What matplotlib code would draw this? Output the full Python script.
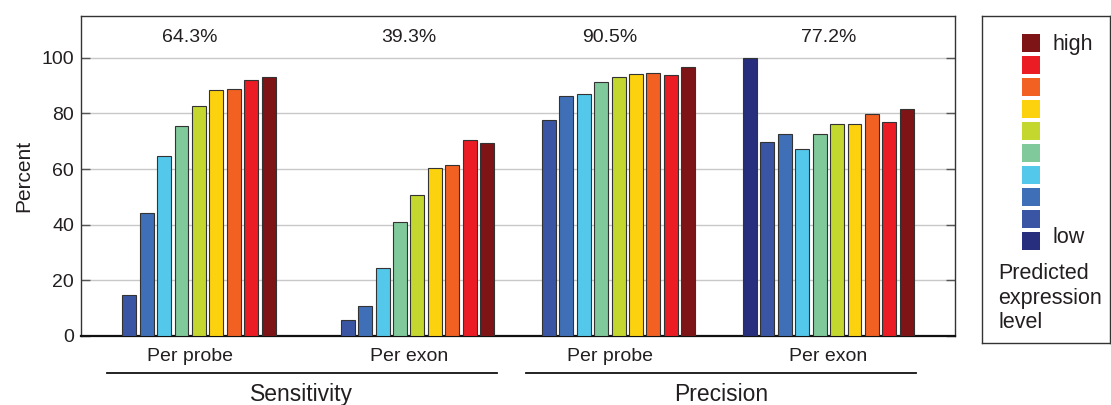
import numpy as np
import matplotlib
matplotlib.use("Agg")
import matplotlib.pyplot as plt
from matplotlib.patches import Rectangle
import matplotlib.transforms as mtransforms

plt.rcParams['font.family'] = ['Liberation Sans', 'DejaVu Sans']

# expression levels, low -> high
level_colors = ['#272e7d', '#3a55a4', '#3f70b7', '#53c8ea', '#80c99a',
                '#c3d72f', '#fcd20e', '#f26122', '#ec1c24', '#7f1416']

groups = ['Per probe', 'Per exon', 'Per probe', 'Per exon']
overall = ['64.3%', '39.3%', '90.5%', '77.2%']
metrics = ['Sensitivity', 'Precision']

# nan = no probes/exons at that level
sens_probe = [np.nan, 14.9, 44.2, 64.6, 75.3, 82.8, 88.4, 88.6, 92.1, 93.0]
sens_exon = [np.nan, 5.9, 10.9, 24.6, 40.8, 50.5, 60.5, 61.3, 70.3, 69.2]
prec_probe = [np.nan, 77.8, 86.4, 86.9, 91.4, 93.2, 94.0, 94.6, 93.9, 96.6]
prec_exon = [100.0, 69.6, 72.5, 67.1, 72.5, 76.2, 76.2, 79.8, 76.8, 81.6]
values = [sens_probe, sens_exon, prec_probe, prec_exon]

group_x = [1.0, 2.0, 2.92, 3.92]
step = 0.08
width = 0.064
txt = '#231f20'

fig = plt.figure(figsize=(11.11, 4.05), dpi=100)
ax = fig.add_axes([0.0729, 0.1704, 0.7867, 0.7901])

for gx, vals in zip(group_x, values):
    for k, v in enumerate(vals):
        if np.isnan(v):
            continue
        ax.bar(gx + (k - 4.5) * step, v, width=width, color=level_colors[k],
               edgecolor='#333333', linewidth=0.8, zorder=3)

for gx, lab in zip(group_x, overall):
    ax.text(gx, 107.3, lab, ha='center', va='center', fontsize=14, color=txt)

ax.set_xlim(0.5, 4.5)
ax.set_ylim(0, 115)
ax.set_yticks([0, 20, 40, 60, 80, 100])
ax.yaxis.grid(True, color='#c8c8c8', linewidth=1, zorder=0)
ax.set_axisbelow(True)
ax.set_xticks([])
ax.tick_params(axis='y', direction='in', length=6.5, width=1, color='#555555',
               labelsize=14, labelcolor=txt, right=True, pad=5)
ax.set_ylabel('Percent', fontsize=15, color=txt, labelpad=6)
for s in ['left', 'top', 'right']:
    ax.spines[s].set_color('#333333')
    ax.spines[s].set_linewidth(1)
ax.spines['bottom'].set_color('#111111')
ax.spines['bottom'].set_linewidth(1.6)

# category labels and metric brackets below the axis
trans = mtransforms.blended_transform_factory(ax.transData, ax.transAxes)
for gx, lab in zip(group_x, groups):
    ax.text(gx, -0.0647, lab, transform=trans, ha='center', va='center',
            fontsize=14, color=txt)
for (a, b), name in zip([(0, 1), (2, 3)], metrics):
    x0 = group_x[a] - 0.382
    x1 = group_x[b] + 0.403
    ax.plot([x0, x1], [-0.1166, -0.1166], transform=trans, color='#111111',
            linewidth=1.3, clip_on=False)
    ax.text((x0 + x1) / 2, -0.184, name, transform=trans, ha='center',
            va='center', fontsize=16.5, color=txt)

# legend panel
lax = fig.add_axes([0.8842, 0.1523, 0.1148, 0.8082])
lax.set_xlim(982, 1110)
lax.set_ylim(343, 16)
lax.set_xticks([])
lax.set_yticks([])
for s in lax.spines.values():
    s.set_color('#333333')
    s.set_linewidth(1)
for i, c in enumerate(level_colors[::-1]):
    lax.add_patch(Rectangle((1021.7, 34 + 22 * i), 18.3, 18, facecolor=c,
                            edgecolor='none'))
lax.text(1052, 44, 'high', ha='left', va='center', fontsize=15.5, color=txt)
lax.text(1052, 237, 'low', ha='left', va='center', fontsize=15.5, color=txt)
lax.text(998, 298, 'Predicted\nexpression\nlevel', ha='left', va='center',
         fontsize=15.5, color=txt, linespacing=1.22)

fig.savefig('out.png', dpi=100)
